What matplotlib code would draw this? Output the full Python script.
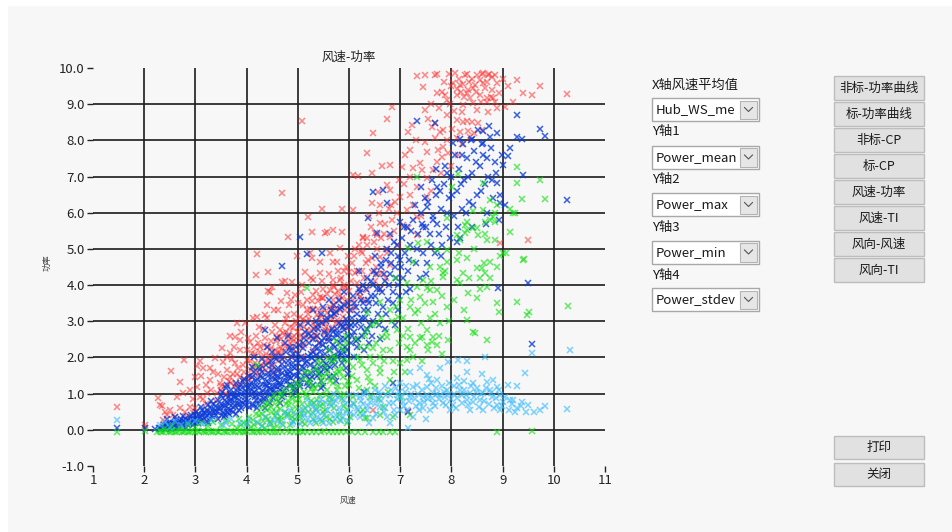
import matplotlib
matplotlib.use("Agg")
import matplotlib.pyplot as plt
from matplotlib.patches import Rectangle
from matplotlib.lines import Line2D
import numpy as np

plt.rcParams['font.family'] = ['Noto Sans CJK SC', 'DejaVu Sans']

# ---------------- data ----------------
title = "风速-功率"
x_label = "风速"
y_label = "功率"
x_ticks = [1, 2, 3, 4, 5, 6, 7, 8, 9, 10, 11]
y_ticks = [-1.0, 0.0, 1.0, 2.0, 3.0, 4.0, 5.0, 6.0, 7.0, 8.0, 9.0, 10.0]

power_max = [
    (1.47,0.62),(2.02,0.12),(2.02,0.06),(2.27,0.88),(2.31,0.69),(2.35,0.66),(2.37,0.28),(2.45,0.4),(2.5,0.55),(2.52,1.63),
    (2.56,0.41),(2.62,0.2),(2.7,0.61),(2.7,1.33),(2.76,1.02),(2.78,1.93),(2.84,0.36),(2.89,0.64),(2.89,1.1),(2.95,0.47),
    (2.99,1.46),(3.03,1.77),(3.03,1.19),(3.09,0.91),(3.09,1.9),(3.15,1.71),(3.23,1.02),(3.29,1.38),(3.29,1.71),(3.38,1.98),
    (3.42,1.02),(3.48,1.3),(3.52,2.26),(3.54,1.88),(3.62,1.66),(3.68,2.6),(3.68,2.13),(3.68,1.46),(3.77,2.57),(3.77,1.85),
    (3.81,2.96),(3.87,2.49),(3.87,2.21),(3.87,1.3),(3.97,2.96),(4.01,1.93),(4.07,2.43),(4.1,2.13),(4.13,3.09),(4.16,1.85),
    (4.18,4.28),(4.2,4.86),(4.2,3.12),(4.22,2.4),(4.26,2.15),(4.36,3.18),(4.36,2.54),(4.36,1.88),(4.4,3.45),(4.42,4.36),
    (4.42,3.84),(4.42,2.29),(4.46,3.81),(4.5,3.95),(4.5,1.74),(4.59,2.57),(4.59,1.66),(4.65,2.29),(4.69,4.09),(4.69,6.55),
    (4.71,2.68),(4.75,4.12),(4.79,3.78),(4.79,3.18),(4.81,5.33),(4.85,2.4),(4.89,4.09),(4.91,2.82),(4.95,3.73),(4.98,4.8),
    (5.04,3.12),(5.04,2.49),(5.08,8.53),(5.1,3.45),(5.1,2.02),(5.14,4.36),(5.18,3.31),(5.18,2.76),(5.2,5.88),(5.24,4.89),
    (5.24,3.35),(5.27,5.47),(5.27,4.75),(5.3,4.14),(5.3,3.73),(5.3,2.21),(5.34,2.62),(5.37,3.18),(5.37,2.82),(5.43,4.64),
    (5.43,4.34),(5.43,3.67),(5.43,2.4),(5.47,6.1),(5.47,3.65),(5.53,5.44),(5.53,2.96),(5.53,2.68),(5.57,5.47),(5.57,3.23),
    (5.59,2.54),(5.63,4.89),(5.63,3.87),(5.69,5.52),(5.69,4.64),(5.69,4.14),(5.69,3.59),(5.69,3.45),(5.69,2.82),(5.77,4.64),
    (5.77,3.04),(5.82,5.03),(5.82,3.31),(5.86,6.1),(5.86,5.47),(5.88,3.92),(5.88,3.12),(5.88,2.85),(5.96,3.59),(5.96,2.85),
    (6.08,7.04),(6.08,6.08),(6.12,4.34),(6.18,7.02),(6.21,3.67),(6.25,4.89),(6.27,5.33),(6.35,7.65),(6.35,5.3),(6.35,3.87),
    (6.45,7.1),(6.45,6.27),(6.45,4.36),(6.47,8.2),(6.47,0.55),(6.55,5.39),(6.57,6.57),(6.61,6.22),(6.61,5.72),(6.61,4.78),
    (6.64,7.29),(6.64,4.34),(6.74,8.59),(6.74,6.77),(6.8,7.32),(6.8,6.63),(6.8,5.33),(6.8,4.56),(6.84,8.92),(6.84,5.8),
    (6.94,5.99),(7.0,6.44),(7.04,7.27),(7.05,5.66),(7.13,6.08),(7.15,8.23),(7.15,5.58),(7.15,0.52),(7.19,7.73),(7.19,6.99),
    (7.19,6.49),(7.23,8.43),(7.25,7.24),(7.33,9.78),(7.33,6.71),(7.33,5.88),(7.33,5.39),(7.39,7.38),(7.43,7.18),(7.45,9.48),
    (7.48,9.8),(7.48,8.84),(7.48,7.96),(7.52,7.68),(7.52,6.96),(7.52,6.44),(7.62,8.37),(7.64,7.18),(7.68,9.8),(7.68,8.48),
    (7.68,8.07),(7.72,9.83),(7.72,9.3),(7.72,7.4),(7.74,7.73),(7.78,8.23),(7.82,9.34),(7.82,7.54),(7.84,8.29),(7.84,7.82),
    (7.88,9.25),(7.91,9.12),(7.91,8.7),(7.91,8.01),(7.93,7.65),(7.95,9.83),(8.01,8.31),(8.03,9.59),(8.11,9.42),(8.11,9.25),
    (8.11,8.56),(8.11,8.07),(8.13,7.6),(8.17,9.53),(8.17,8.23),(8.21,8.78),(8.23,9.56),(8.23,8.98),(8.27,9.8),(8.3,9.83),
    (8.3,9.3),(8.3,8.53),(8.32,9.39),(8.32,8.26),(8.36,9.17),(8.36,8.09),(8.42,9.45),(8.42,9.03),(8.46,9.53),(8.5,9.8),
    (8.5,8.84),(8.52,8.48),(8.56,9.25),(8.6,9.83),(8.62,9.86),(8.62,9.59),(8.69,9.17),(8.7,9.06),(8.71,9.8),(8.71,8.78),
    (8.73,9.83),(8.81,9.17),(8.85,9.06),(8.89,9.59),(8.89,8.9),(8.95,5.17),(9.05,8.92),(9.1,9.5),(9.2,9.06),(9.28,9.67),
    (9.4,9.3),(9.5,5.25),(9.57,9.25),(9.73,9.5),(10.26,9.28),
    (4.55,2.9),(4.62,3.3),(4.68,2.1),(4.75,2.95),(4.82,3.45),(4.88,2.25),(4.93,3.2),(5.0,2.7),(5.06,3.8),(5.12,2.35),
    (5.16,3.0),(5.22,2.55),(5.28,3.55),(5.33,2.85),(5.4,3.35),(5.46,2.95),(5.5,3.9),(5.55,3.1),(5.6,2.75),(5.65,3.3),
    (5.72,3.75),(5.75,2.95),(5.8,3.55),(5.85,4.2),(5.92,3.3),(5.95,4.5),(6.0,3.85),(6.05,4.6),(6.1,3.4),(6.15,4.05),
    (6.2,5.1),(6.25,4.4),(6.3,3.6),(6.38,4.7),(6.42,5.6),(6.5,4.1),(6.55,5.0),(6.6,3.9),(6.7,5.7),(6.75,4.9),
    (6.9,6.3),(6.95,5.1),(7.08,6.8),(7.25,6.2),(7.4,5.9),(7.6,6.6),(7.8,7.1),(8.0,7.3),(8.2,7.9),(8.4,8.5),
    (8.6,8.3),(8.8,9.4),(8.55,9.68),(8.4,9.7),(8.15,9.7),(8.0,9.5),(8.7,9.6),(8.8,9.75),(8.48,9.35),(8.25,9.2),
    (3.95,1.6),(4.0,2.2),(4.05,1.4),(4.12,1.75),(4.18,2.6),(4.25,1.55),(4.3,2.0),(4.33,2.8),(4.38,1.65),(4.45,2.05),
    (4.48,2.45),(4.52,1.55),(4.56,2.2),(4.62,1.9),(4.66,2.75),(4.72,1.95),(4.78,2.55),(4.86,2.0),(4.92,2.6),(4.97,2.15),
    (3.3,1.1),(3.45,1.55),(3.58,1.2),(3.72,1.95),(3.82,1.55),(3.6,1.0),(3.4,0.8),(3.2,0.7),(3.0,0.6),(2.8,0.5),(2.6,0.35),
    (3.55,1.45),(3.62,2.0),(3.7,1.3),(3.76,2.3),(3.84,1.7),(3.9,2.7),(3.94,1.4),(4.03,2.55),(4.08,1.65),(4.14,2.3),
    (4.19,1.55),(4.24,2.85),(4.28,1.8),(4.34,2.35),(4.39,3.1),(4.44,1.9),(4.49,2.7),(4.53,3.3),(4.58,2.1),(4.63,2.6),
    (4.67,3.55),(4.73,2.35),(4.77,3.05),(4.83,2.65),(4.87,3.6),(4.9,2.45),(4.96,3.0),(5.01,3.5),(5.05,2.6),(5.09,4.0),
    (5.13,2.85),(5.17,3.6),(5.21,3.05),(5.26,4.2),(5.29,2.95),(5.35,3.85),(5.38,2.6),(5.42,3.1),(5.48,4.1),(5.51,3.35),
    (5.56,2.85),(5.61,4.3),(5.66,3.05),(5.71,3.95),(5.74,3.35),(5.79,4.4),(5.83,3.7),(5.87,2.95),(5.91,4.0),(5.94,3.45),
    (5.98,4.8),(6.03,4.1),(6.07,3.6),(6.11,5.0),(6.16,4.4),(6.22,3.9),(6.28,5.3),(6.33,4.6),(6.4,5.9),(6.48,5.2),
    (6.52,4.5),(6.58,6.0),(6.68,5.4),(6.72,4.2),(6.78,6.1),(6.88,5.5),(6.98,6.9),(7.1,7.6),(7.3,8.0),(7.55,8.6),
    (7.75,8.9),(7.85,9.6),(7.98,9.0),(8.08,9.85),(8.18,9.35),(8.35,9.6),(8.45,8.2),(8.58,9.05),(8.65,9.45),(8.78,9.2),
    (8.86,9.8),(8.93,9.3),(9.0,9.7),(8.05,8.8),(8.22,8.5),(7.6,9.0),(3.1,1.5),(3.2,1.25),(3.35,1.6),(3.15,0.85),
    (2.95,0.85),(2.65,0.9),(2.4,0.5),(3.5,1.1),(3.75,1.2),
    (3.5,1.2),(3.58,0.95),(3.65,1.35),(3.73,1.55),(3.8,1.25),(3.88,1.45),(3.93,1.8),(4.02,1.5),(4.06,1.9),(4.11,1.45),
    (4.17,2.1),(4.21,1.7),(4.27,2.3),(4.31,1.75),(4.37,2.1),(4.41,1.85),(4.47,2.25),(4.51,2.0),(4.57,2.45),(4.61,2.15),
    (4.67,2.5),(4.7,2.2),(4.76,2.7),(4.8,2.3),(4.84,2.85),(4.88,2.55),(4.94,2.95),(4.99,2.4),(5.03,2.85),(5.07,2.3),
    (5.11,3.05),(5.15,2.6),(5.2,3.2),(5.25,2.75),(5.3,3.35),(5.35,2.5),(5.4,3.55),(5.45,3.15),(5.5,3.65),(5.54,2.75),
    (5.58,3.75),(5.63,3.4),(5.68,4.0),(5.73,3.2),(5.78,3.85),(5.82,4.15),(5.86,3.65),(5.9,4.4),(5.95,3.95),(6.0,4.35),
    (6.05,3.3),(6.1,4.8),(6.18,3.75),(6.24,4.95),(6.3,4.2),(6.36,5.1),(6.44,4.75),(6.5,5.45),(6.56,4.3),(6.62,5.3),
    (6.72,5.0),(6.82,6.2),
]

power_mean = [
    (1.47,0.05),(2.02,0.05),
    (2.22,0.02),(2.28,0.05),(2.32,0.01),(2.36,0.08),(2.4,0.03),(2.43,0.12),(2.47,0.06),(2.5,0.15),(2.53,0.09),(2.56,0.2),
    (2.6,0.12),(2.63,0.05),(2.66,0.18),(2.7,0.24),(2.73,0.1),(2.76,0.2),(2.8,0.3),(2.83,0.16),(2.86,0.26),(2.9,0.35),
    (2.93,0.22),(2.96,0.3),(3.0,0.4),(3.0,0.2),(2.45,0.3),(2.6,0.35),(2.75,0.38),
    (3.04,0.33),(3.07,0.45),(3.1,0.26),(3.13,0.4),(3.16,0.5),(3.2,0.35),(3.23,0.55),(3.26,0.44),(3.3,0.6),(3.33,0.38),
    (3.36,0.5),(3.4,0.65),(3.43,0.48),(3.46,0.58),(3.5,0.72),(3.53,0.5),(3.56,0.64),(3.6,0.78),(3.63,0.58),(3.66,0.7),
    (3.7,0.85),(3.73,0.62),(3.76,0.76),(3.8,0.92),(3.83,0.7),(3.86,0.82),(3.9,1.0),(3.93,0.74),(3.96,0.9),(4.0,1.05),
    (3.1,0.62),(3.3,0.8),(3.5,0.95),(3.7,1.1),(3.9,1.25),(3.45,0.3),(3.65,0.45),(3.85,0.55),
    (4.03,0.8),(4.06,0.95),(4.1,1.1),(4.13,0.72),(4.16,0.9),(4.2,1.2),(4.23,1.0),(4.26,0.82),(4.3,1.28),(4.33,1.08),
    (4.36,0.9),(4.4,1.35),(4.43,1.15),(4.46,0.95),(4.5,1.42),(4.53,1.22),(4.56,1.02),(4.6,1.5),(4.63,1.3),(4.66,1.1),
    (4.7,1.58),(4.73,1.38),(4.76,1.16),(4.8,1.66),(4.83,1.45),(4.86,1.24),(4.9,1.75),(4.93,1.52),(4.96,1.3),(5.0,1.85),
    (4.1,1.45),(4.3,1.6),(4.5,1.8),(4.7,1.95),(4.9,2.1),(4.2,0.6),(4.45,0.75),(4.7,0.9),(4.95,1.05),(4.15,2.0),
    (4.4,2.3),(4.6,2.55),(4.35,2.75),(4.8,2.6),
    (5.03,1.6),(5.06,1.4),(5.1,1.95),(5.13,1.7),(5.16,1.48),(5.2,2.05),(5.23,1.8),(5.26,1.56),(5.3,2.15),(5.33,1.9),
    (5.36,1.65),(5.4,2.25),(5.43,2.0),(5.46,1.74),(5.5,2.35),(5.53,2.1),(5.56,1.82),(5.6,2.45),(5.63,2.2),(5.66,1.9),
    (5.7,2.55),(5.73,2.3),(5.76,2.0),(5.8,2.65),(5.83,2.4),(5.86,2.1),(5.9,2.75),(5.93,2.5),(5.96,2.2),(6.0,2.85),
    (5.1,2.4),(5.25,2.6),(5.4,2.8),(5.55,3.0),(5.7,3.2),(5.85,3.4),(5.2,1.2),(5.45,1.35),(5.7,1.5),(5.95,1.7),
    (5.3,3.3),(5.6,3.6),(5.9,3.8),(5.05,2.9),(5.5,1.2),
    (6.03,2.4),(6.06,3.1),(6.1,2.7),(6.13,3.4),(6.16,2.3),(6.2,3.0),(6.23,3.6),(6.26,2.6),(6.3,3.3),(6.33,3.9),
    (6.36,2.8),(6.4,3.5),(6.43,4.1),(6.46,3.0),(6.5,3.7),(6.53,4.3),(6.56,3.2),(6.6,3.9),(6.63,4.5),(6.66,3.4),
    (6.7,4.1),(6.73,4.7),(6.76,3.6),(6.8,4.3),(6.83,4.9),(6.86,3.8),(6.9,4.5),(6.93,5.1),(6.96,4.0),(7.0,4.7),
    (6.1,2.0),(6.4,2.4),(6.7,2.8),(6.2,4.4),(6.5,4.8),(6.8,5.4),(6.95,3.3),
    (7.03,5.3),(7.06,4.2),(7.1,4.9),(7.13,5.6),(7.16,4.4),(7.2,5.1),(7.25,5.8),(7.3,4.6),(7.35,5.4),(7.4,6.0),
    (7.45,4.9),(7.5,5.6),(7.55,6.3),(7.6,5.1),(7.65,5.9),(7.7,6.5),(7.75,5.4),(7.8,6.1),(7.85,6.8),(7.9,5.6),
    (7.95,6.4),(8.0,7.0),(7.2,3.9),(7.5,4.3),(7.8,4.8),(7.4,6.7),(7.7,7.2),
    (8.05,5.9),(8.1,6.6),(8.15,7.2),(8.2,6.1),(8.25,6.9),(8.3,7.5),(8.35,6.3),(8.4,7.1),(8.45,7.7),(8.5,6.5),
    (8.55,7.3),(8.6,7.9),(8.65,6.8),(8.7,7.5),(8.75,8.1),(8.8,6.9),(8.85,7.4),(8.9,8.2),(8.1,5.2),(8.4,5.6),
    (8.7,6.0),(8.95,6.5),
    (7.33,8.53),(7.68,8.48),(8.62,8.26),(8.73,8.4),(9.28,8.7),(9.73,8.31),(9.83,8.12),(9.28,8.09),(9.38,8.04),(8.03,7.93),
    (8.17,8.04),(8.4,8.04),(8.62,7.93),(9.14,7.79),(9.1,7.57),(9.0,7.32),(8.21,7.6),(9.4,7.04),(8.89,6.82),(7.91,7.1),
    (7.72,6.71),(7.52,6.16),(6.66,6.63),(6.74,6.27),(6.37,5.86),(7.0,5.75),(8.95,6.27),(9.05,6.22),(10.26,6.35),(7.64,5.8),
    (7.45,5.61),(8.17,5.3),(6.55,5.44),(6.47,6.57),
    (5.04,5.33),(4.69,4.53),(5.18,4.86),(5.47,4.89),(8.91,3.92),(9.5,4.06),(9.57,2.37),(6.86,1.3),(7.15,0.5),(6.3,1.05),
    (2.31,0.06),(2.38,0.14),(2.44,0.05),(2.49,0.2),(2.52,0.02),(2.58,0.16),(2.62,0.27),(2.68,0.08),(2.71,0.31),(2.74,0.15),
    (2.79,0.22),(2.82,0.06),(2.88,0.18),(2.91,0.42),(2.95,0.12),(2.98,0.27),
    (3.02,0.5),(3.05,0.18),(3.09,0.36),(3.12,0.55),(3.15,0.28),(3.18,0.44),(3.22,0.25),(3.24,0.68),(3.28,0.5),(3.31,0.3),
    (3.35,0.72),(3.38,0.56),(3.41,0.4),(3.44,0.82),(3.48,0.62),(3.51,0.42),(3.54,0.88),(3.58,0.68),(3.61,0.5),(3.64,0.92),
    (3.67,0.8),(3.69,0.55),(3.72,1.0),(3.75,0.9),(3.78,0.66),(3.81,1.08),(3.84,0.95),(3.88,0.72),(3.91,1.15),(3.94,1.02),
    (3.97,0.8),(3.99,1.2),(3.25,0.2),(3.55,0.35),(3.8,0.45),(3.6,1.15),(3.95,1.4),
    (4.02,1.15),(4.05,0.62),(4.08,1.3),(4.11,0.98),(4.14,1.22),(4.18,0.82),(4.21,1.4),(4.24,1.15),(4.27,0.98),(4.29,1.5),
    (4.32,0.78),(4.35,1.25),(4.38,1.05),(4.41,1.58),(4.44,1.3),(4.47,1.12),(4.49,1.65),(4.52,0.88),(4.55,1.4),(4.58,1.2),
    (4.61,1.72),(4.64,1.45),(4.67,1.28),(4.69,1.82),(4.72,1.05),(4.75,1.52),(4.78,1.35),(4.81,1.9),(4.84,1.6),(4.87,1.42),
    (4.89,2.0),(4.92,1.18),(4.95,1.7),(4.98,1.5),(4.25,1.75),(4.55,2.0),(4.85,2.3),(4.65,0.75),(4.35,0.6),(4.9,0.95),
    (5.01,2.1),(5.04,1.3),(5.08,1.75),(5.11,2.25),(5.14,1.58),(5.18,1.9),(5.21,2.4),(5.24,1.4),(5.27,1.98),(5.29,2.5),
    (5.32,1.75),(5.35,2.08),(5.38,2.6),(5.41,1.55),(5.44,2.15),(5.47,2.45),(5.49,1.9),(5.52,2.7),(5.55,2.25),(5.58,1.65),
    (5.61,2.55),(5.64,2.0),(5.67,2.8),(5.69,2.35),(5.72,1.8),(5.75,2.65),(5.78,2.15),(5.81,2.95),(5.84,2.5),(5.87,1.85),
    (5.89,2.85),(5.92,2.3),(5.95,3.05),(5.98,2.6),(5.15,2.7),(5.35,3.0),(5.65,3.3),(5.8,3.6),(5.45,1.15),(5.75,1.35),
    (5.98,1.55),(5.5,3.4),
    (6.02,3.3),(6.05,2.6),(6.08,3.7),(6.12,2.9),(6.15,3.2),(6.18,2.5),(6.22,3.8),(6.25,3.1),(6.28,3.5),(6.32,2.7),
    (6.35,4.2),(6.38,3.3),(6.42,3.7),(6.45,2.6),(6.48,4.4),(6.52,3.5),(6.55,3.9),(6.58,2.9),(6.62,4.6),(6.65,3.8),
    (6.68,4.3),(6.72,3.2),(6.75,5.0),(6.78,4.0),(6.82,4.6),(6.85,3.5),(6.88,5.2),(6.92,4.2),(6.95,4.8),(6.98,3.7),
    (6.3,2.2),(6.6,2.5),(6.9,2.9),
    (7.02,4.5),(7.08,5.6),(7.12,3.8),(7.18,4.7),(7.22,5.5),(7.28,6.2),(7.32,5.0),(7.38,4.2),(7.42,5.7),(7.48,6.4),
    (7.52,4.6),(7.58,5.4),(7.62,6.9),(7.68,4.9),(7.72,5.7),(7.78,6.6),(7.82,5.1),(7.88,7.3),(7.92,6.0),(7.98,5.3),
    (8.02,6.5),(8.08,7.6),(8.12,5.6),(8.18,6.8),(8.22,7.9),(8.28,6.0),(8.32,7.0),(8.38,8.0),(8.42,6.2),(8.48,7.4),
    (8.52,8.3),(8.58,6.6),(8.62,7.6),(8.68,5.7),(8.72,7.0),(8.78,7.8),(8.82,6.4),(8.88,7.1),(8.92,5.8),(8.98,7.6),
    (3.52,1.05),(3.57,0.42),(3.62,1.25),(3.68,0.98),(3.74,0.48),(3.79,1.3),(3.83,1.15),(3.89,0.6),(3.92,1.35),(3.98,0.65),
    (4.04,1.5),(4.07,1.25),(4.12,0.65),(4.15,1.6),(4.19,1.35),(4.22,0.7),(4.26,1.68),(4.31,1.42),(4.34,0.85),(4.37,1.8),
    (4.42,1.5),(4.45,1.02),(4.48,1.9),(4.51,1.58),(4.54,1.1),(4.57,1.95),(4.62,1.62),(4.65,1.2),(4.68,2.05),(4.71,1.7),
    (4.74,0.98),(4.77,2.15),(4.8,1.78),(4.83,1.25),(4.87,2.2),(4.9,1.85),(4.93,1.1),(4.96,2.28),(4.99,1.95),(4.15,1.05),
    (4.4,1.2),(4.6,1.35),(4.8,1.55),(4.3,1.95),(4.5,2.15),(4.75,2.4),(4.1,1.75),
    (5.02,2.35),(5.05,1.2),(5.07,2.0),(5.12,2.55),(5.15,1.85),(5.17,1.3),(5.22,2.65),(5.25,2.1),(5.28,1.45),(5.31,2.78),
    (5.34,2.3),(5.37,1.5),(5.39,2.9),(5.42,2.4),(5.45,1.6),(5.48,2.95),(5.51,2.55),(5.54,1.7),(5.57,3.1),(5.59,2.65),
    (5.62,1.75),(5.65,3.15),(5.68,2.7),(5.71,1.95),(5.74,3.25),(5.77,2.8),(5.79,2.05),(5.82,3.35),(5.85,2.9),(5.88,2.2),
    (5.91,3.45),(5.94,2.95),(5.97,2.05),(5.99,3.5),(5.2,2.95),(5.45,3.2),(5.7,3.45),(5.3,1.25),(5.6,1.45),(5.9,1.95),
    (6.04,2.9),(6.09,3.5),(6.14,2.45),(6.19,3.9),(6.24,2.85),(6.27,4.0),(6.31,3.1),(6.37,3.6),(6.41,2.9),(6.47,4.0),
]

power_min = [
    (1.47,-0.05),(2.02,-0.02),(2.25,-0.05),(2.3,-0.02),(2.36,-0.05),(2.42,-0.03),(2.48,-0.06),(2.55,-0.04),(2.6,-0.06),
    (2.67,-0.03),(2.73,-0.06),(2.8,-0.04),(2.86,-0.06),(2.93,-0.03),(3.0,-0.05),(3.07,-0.06),(3.14,-0.03),(3.2,-0.06),
    (3.27,-0.04),(3.34,-0.06),(3.4,-0.03),(3.47,-0.06),(3.55,-0.04),(3.62,-0.06),(3.7,-0.04),(3.78,-0.06),(3.85,-0.03),
    (3.93,-0.06),(4.0,-0.04),(4.1,-0.06),(4.2,-0.04),(4.3,-0.06),(4.42,-0.05),(4.55,-0.06),(4.7,-0.05),(4.85,-0.06),
    (5.0,-0.05),(5.1,-0.06),(5.27,-0.06),(5.45,-0.05),(5.6,-0.06),(5.77,-0.05),(6.06,-0.06),(6.31,-0.06),(6.47,-0.06),
    (6.66,-0.06),(6.9,-0.06),(8.89,-0.05),(9.57,-0.03),
    (2.4,0.05),(2.55,0.1),(2.7,0.04),(2.85,0.12),(3.0,0.08),(3.1,0.18),(3.25,0.1),(3.35,0.22),(3.5,0.12),(3.6,0.25),
    (3.72,0.15),(3.85,0.3),(3.95,0.18),(4.05,0.35),(4.15,0.12),(4.25,0.42),(4.32,0.25),(4.4,0.55),(4.48,0.15),(4.55,0.38),
    (4.6,0.65),(4.68,0.28),(4.75,0.5),(4.8,0.8),(4.88,0.35),(4.95,0.62),(5.0,0.95),(4.2,1.8),(4.65,1.0),(4.9,1.15),
    (4.45,0.85),(4.35,0.05),(4.6,0.1),(4.85,0.12),
    (5.1,0.55),(5.3,0.47),(5.49,0.5),(5.82,0.28),(6.02,0.36),(6.35,0.33),(6.61,0.41),(6.86,0.36),(5.69,0.22),(5.08,0.22),
    (5.18,0.91),(5.37,0.83),(5.63,0.75),(5.57,1.1),(5.82,0.97),(6.08,0.91),(6.35,1.1),(5.24,1.3),(5.43,1.46),(5.69,1.3),
    (5.88,1.46),(6.16,1.38),(6.41,1.33),(5.77,1.66),(6.08,1.74),(6.35,1.66),(6.61,1.71),(5.88,1.93),(6.16,2.02),(6.41,2.02),
    (6.61,2.02),(6.21,2.29),(6.47,2.27),(6.35,2.76),(6.55,2.96),(6.64,2.57),(6.35,3.23),(6.61,3.54),(6.8,3.31),(6.96,3.12),
    (6.74,2.57),(6.94,2.76),(5.69,1.88),(5.57,1.57),(5.18,3.92),(6.61,1.57),(6.8,1.38),(6.47,1.85),(6.21,1.93),(6.66,2.21),
    (6.35,2.29),(6.41,0.91),(6.21,0.47),(6.66,0.64),(7.0,0.91),(7.19,0.41),(6.31,0.33),(5.96,0.19),(5.3,1.05),(5.5,0.7),
    (5.15,1.6),(5.4,1.9),(5.6,2.2),(5.75,2.45),(5.95,2.6),(6.0,1.25),(5.9,0.65),(5.55,0.35),(5.35,0.2),
    (7.13,2.29),(7.25,2.02),(7.19,2.57),(7.39,2.54),(7.64,2.57),(7.72,2.35),(7.52,2.76),(7.78,2.96),(7.58,3.09),(7.29,3.23),
    (7.19,3.4),(7.64,3.54),(7.91,3.4),(7.39,3.67),(7.52,3.92),(7.72,3.87),(7.84,4.23),(8.11,4.14),(7.91,4.64),(8.17,4.06),
    (8.3,3.04),(8.42,2.71),(8.7,2.49),(8.32,3.78),(8.5,3.65),(8.89,3.51),(9.28,3.54),(8.93,3.26),(9.52,3.26),(9.48,3.18),
    (8.7,3.95),(8.56,4.2),(8.23,4.34),(8.6,4.48),(8.64,4.61),(8.75,4.64),(9.42,4.72),(9.07,4.89),(9.14,5.47),(10.27,3.42),
    (8.46,2.68),(7.93,2.49),(7.82,2.1),(7.43,2.57),(7.52,2.35),(7.62,2.43),(7.19,2.21),(7.0,1.85),(7.13,1.93),(9.28,7.27),
    (9.38,6.38),(9.24,5.99),(8.13,7.07),(8.62,6.82),(8.42,6.05),(8.81,5.88),(8.66,5.75),(8.27,5.66),(8.3,5.52),(8.5,5.58),
    (8.52,5.39),(8.7,5.25),(8.85,5.25),(8.11,5.39),(8.17,5.25),(7.91,5.86),(8.11,4.7),(8.3,4.75),(8.5,4.48),(8.66,4.34),
    (8.89,4.5),(9.0,4.89),(9.4,4.7),(7.78,4.5),(7.58,4.5),(7.84,4.34),(7.72,4.97),(7.52,5.19),(7.58,3.87),(7.25,4.64),
    (7.45,4.14),(7.33,3.95),(7.13,4.06),(7.91,4.97),(7.35,5.17),(7.15,5.03),(9.28,6.82),(9.73,6.91),(9.83,6.38),(8.75,6.35),
    (8.89,6.22),(9.14,6.1),(9.2,5.99),(8.62,6.08),(8.85,5.75),(8.75,5.8),(8.3,5.75),(8.42,5.58),(8.27,5.44),(7.33,6.99),
    (8.01,6.71),(7.05,2.6),(6.85,1.9),(7.0,3.6),(7.4,2.95),(6.9,4.2),
    (3.82,0.05),(3.9,0.12),(4.0,0.2),(4.08,0.08),(4.12,0.28),(4.18,0.45),(4.22,0.18),(4.28,0.6),(4.3,0.1),(4.38,0.35),
    (4.42,0.7),(4.45,0.22),(4.5,0.5),(4.52,0.05),(4.58,0.82),(4.62,0.3),(4.65,0.58),(4.7,0.95),(4.72,0.12),(4.78,0.42),
    (4.82,0.68),(4.86,1.0),(4.9,0.25),(4.93,0.5),(4.97,0.8),(5.02,1.2),(5.05,0.35),(5.08,0.7),(5.12,1.05),(5.15,0.15),
    (5.2,0.5),(5.22,1.35),(5.26,0.8),(5.3,0.3),(5.33,1.15),(5.36,0.6),(5.4,1.6),(5.44,0.95),(5.47,0.25),(5.5,1.3),
    (5.53,0.55),(5.56,1.75),(5.6,0.9),(5.62,0.3),(5.66,1.45),(5.7,0.6),(5.72,1.95),(5.76,1.1),(5.8,0.4),(5.83,1.6),
    (5.86,0.85),(5.9,2.2),(5.93,1.2),(5.97,0.55),(5.99,1.9),
    (4.15,-0.05),(4.25,-0.06),(4.38,-0.04),(4.5,-0.05),(4.62,-0.06),(4.78,-0.04),(4.92,-0.06),(5.05,-0.04),(5.18,-0.05),
    (5.36,-0.06),(5.52,-0.04),(5.68,-0.05),(5.85,-0.06),(5.95,-0.05),(6.18,-0.06),(6.58,-0.05),(6.8,-0.06),(2.33,-0.06),
    (2.52,-0.05),(2.64,-0.06),(2.77,-0.05),(2.9,-0.06),(3.04,-0.04),(3.17,-0.05),(3.3,-0.05),(3.44,-0.05),(3.58,-0.05),
    (3.74,-0.05),(3.88,-0.05),(3.97,-0.05),
    (6.05,1.5),(6.1,0.7),(6.14,2.5),(6.2,1.15),(6.25,1.8),(6.28,0.55),(6.32,2.6),(6.38,1.45),(6.44,2.9),(6.5,1.2),
    (6.53,2.4),(6.58,0.85),(6.63,3.1),(6.68,1.9),(6.72,2.7),(6.76,1.05),(6.8,2.2),(6.84,3.0),(6.88,1.6),(6.92,3.4),
    (6.97,2.4),
    (7.05,3.1),(7.1,1.6),(7.15,2.8),(7.22,3.6),(7.28,2.4),(7.35,3.3),(7.42,1.9),(7.48,3.5),(7.55,2.2),(7.6,4.1),
    (7.68,3.2),(7.75,2.6),(7.82,3.7),(7.88,4.4),(7.95,3.0),(8.05,3.6),(8.15,4.9),(8.25,3.3),(8.35,4.2),(8.45,5.0),
    (8.55,3.9),(8.65,5.4),(8.75,4.2),(8.85,6.0),(8.95,4.8),
    (4.3,0.45),(4.36,0.72),(4.41,0.3),(4.47,0.62),(4.53,0.95),(4.57,0.48),(4.63,0.8),(4.67,0.35),(4.73,1.1),(4.76,0.72),
    (4.81,0.45),(4.84,1.2),(4.89,0.85),(4.94,0.3),(4.98,1.3),(5.03,0.85),(5.07,0.45),(5.11,1.4),(5.16,1.0),(5.19,0.65),
    (5.23,1.6),(5.28,1.15),(5.32,0.75),(5.35,1.7),(5.39,1.25),(5.43,0.65),(5.46,1.85),(5.51,1.45),(5.55,0.95),(5.59,1.95),
    (5.63,1.35),(5.67,0.85),(5.7,2.05),(5.74,1.55),(5.78,1.2),(5.82,2.3),(5.87,1.7),(5.91,1.0),(5.94,2.4),(5.98,1.35),
]

power_stdev = [
    (1.47,0.28),(2.3,0.12),(2.4,0.22),(2.5,0.08),(2.6,0.25),(2.72,0.14),(2.85,0.2),(3.0,0.25),(3.15,0.15),(3.3,0.28),
    (3.54,0.14),(3.7,0.3),(3.87,0.19),(4.05,0.28),(4.2,0.22),(4.35,0.35),(4.52,0.28),(4.6,0.45),(4.7,0.15),(4.79,0.36),
    (4.85,0.55),(4.91,0.22),(5.04,0.55),(5.1,0.35),(5.18,0.83),(5.24,0.19),(5.3,0.62),(5.37,0.36),(5.42,0.75),(5.49,0.19),
    (5.57,0.55),(5.62,0.88),(5.69,0.75),(5.75,0.4),(5.8,0.6),(5.85,0.25),(5.9,0.82),(5.95,0.5),(6.02,0.47),(6.08,0.75),
    (6.15,0.6),(6.21,0.91),(6.21,0.36),(6.28,0.7),(6.35,0.55),(6.41,0.77),(6.47,0.33),(6.55,0.85),(6.61,0.97),(6.61,0.64),
    (6.68,0.5),(6.74,0.36),(6.8,0.97),(6.8,0.19),(6.86,0.75),(6.92,1.15),(7.0,1.3),(7.0,0.55),(7.05,0.77),(7.13,0.55),
    (7.15,0.06),(7.19,0.91),(7.19,1.6),(7.25,1.19),(7.3,0.65),(7.39,0.75),(7.39,1.71),(7.45,0.91),(7.45,0.61),(7.52,1.19),
    (7.52,1.52),(7.58,0.55),(7.64,1.02),(7.64,0.75),(7.72,1.38),(7.78,0.97),(7.78,1.71),(7.84,0.75),(7.91,1.1),(7.93,1.88),
    (7.97,0.55),(8.03,0.69),(8.11,0.88),(8.11,1.44),(8.13,1.93),(8.17,1.1),(8.3,0.83),(8.3,1.6),(8.3,1.91),(8.36,1.02),
    (8.36,0.55),(8.42,1.3),(8.56,0.83),(8.6,1.55),(8.62,1.02),(8.62,0.55),(8.66,2.02),(8.7,1.33),(8.79,0.91),(8.81,1.38),
    (8.89,1.19),(8.89,0.69),(8.95,0.97),(8.95,0.55),(9.0,0.77),(9.1,1.24),(9.14,0.83),(9.2,0.83),(9.28,1.22),(9.28,0.61),
    (9.38,0.77),(9.44,1.57),(9.5,0.69),(9.57,2.13),(9.73,0.55),(9.83,0.66),(10.31,2.21),(10.25,0.58),
    (6.5,1.1),(6.7,1.2),(6.95,0.95),(7.1,1.05),(7.35,1.0),(7.55,0.85),(7.7,1.15),(7.88,0.9),(8.05,1.2),(8.2,0.95),
    (8.45,0.9),(8.5,1.15),(8.75,1.1),(7.6,1.3),(7.95,1.3),(8.25,1.35),(6.3,0.95),(6.0,0.95),(5.7,1.0),(6.4,0.2),
    (6.9,0.4),(7.25,0.35),(7.5,0.3),
    (5.05,0.15),(5.12,0.45),(5.2,0.3),(5.27,0.7),(5.33,0.25),(5.4,0.5),(5.46,0.85),(5.52,0.4),(5.6,0.2),(5.65,0.65),
    (5.72,0.3),(5.78,0.9),(5.83,0.5),(5.88,0.35),(5.93,0.7),(5.98,0.25),(6.04,0.65),(6.1,0.4),(6.13,0.95),(6.18,0.55),
    (6.24,0.8),(6.3,0.45),(6.33,1.05),(6.38,0.65),(6.44,0.9),(6.5,0.7),(6.53,0.45),(6.58,1.05),(6.63,0.8),(6.7,0.6),
    (6.73,0.95),(6.78,0.75),(6.83,1.1),(6.88,0.55),(6.93,0.85),(6.98,1.05),(7.03,0.9),(7.08,0.65),(7.12,1.2),(7.17,0.8),
    (7.22,1.0),(7.28,0.85),(7.32,1.25),(7.37,0.55),(7.42,1.1),(7.47,0.78),(7.52,0.95),(7.57,1.4),(7.62,0.88),(7.67,0.65),
    (7.72,1.0),(7.76,0.85),(7.81,1.2),(7.86,1.05),(7.9,0.68),(7.95,0.98),(8.0,0.85),(8.06,1.0),(8.09,0.6),(8.14,1.25),
    (8.2,0.75),(8.24,1.1),(8.28,0.95),(8.33,0.68),(8.38,1.2),(8.43,0.78),(8.48,1.05),(8.53,0.62),(8.58,1.0),(8.64,0.8),
    (8.68,1.15),(8.73,0.7),(8.78,1.02),(8.84,0.6),(8.87,0.88),(8.92,1.1),(8.98,0.66),(9.05,0.9),(9.12,0.55),(9.18,0.7),
    (9.25,0.5),(9.35,0.65),(9.45,0.48),(9.62,0.5),(4.45,0.15),(4.62,0.25),(4.75,0.5),(4.88,0.15),(4.95,0.4),(4.3,0.1),
    (4.0,0.12),(3.6,0.2),
    (5.15,0.6),(5.35,0.55),(5.55,0.75),(5.75,0.8),(5.45,0.3),(5.65,0.45),(5.25,0.45),
]

series = [
    ("Power_max", power_max, "#ff2a2a", 0.55),
    ("Power_mean", power_mean, "#0a3ad6", 0.8),
    ("Power_min", power_min, "#10e010", 0.65),
    ("Power_stdev", power_stdev, "#38bcff", 0.65),
]

x_selector_label = "X轴风速平均值"
x_selector_value = "Hub_WS_me"
y_selector_labels = ["Y轴1", "Y轴2", "Y轴3", "Y轴4"]
y_selector_values = ["Power_mean", "Power_max", "Power_min", "Power_stdev"]
buttons = ["非标-功率曲线", "标-功率曲线", "非标-CP", "标-CP", "风速-功率", "风速-TI", "风向-风速", "风向-TI"]
bottom_buttons = ["打印", "关闭"]

# ---------------- figure ----------------
W, H = 952, 532
fig = plt.figure(figsize=(W / 100, H / 100), dpi=100)
fig.patch.set_facecolor("white")


def fx(x):
    return x / W


def fy(y):
    return 1 - y / H


def rect_px(x0, y0, x1, y1, **kw):
    fig.add_artist(Rectangle((fx(x0), fy(y1)), fx(x1) - fx(x0), fy(y0) - fy(y1),
                             transform=fig.transFigure, **kw))


# panel background
rect_px(8, 6, W, H, facecolor="#f7f7f7", edgecolor="none", zorder=-10)

ax = fig.add_axes([fx(93), fy(466), fx(605) - fx(93), fy(68) - fy(466)])
ax.set_facecolor("none")
ax.set_xlim(x_ticks[0], x_ticks[-1])
ax.set_ylim(y_ticks[0], y_ticks[-1])
for s in ax.spines.values():
    s.set_visible(False)
ax.set_xticks(x_ticks)
ax.set_xticklabels([str(t) for t in x_ticks])
ax.set_yticks(y_ticks)
ax.set_yticklabels([f"{t:.1f}" for t in y_ticks])
ax.tick_params(direction="out", length=4, width=1, colors="#222222", labelsize=9.5, pad=2)

for t in x_ticks[1:-1]:
    ax.axvline(t, color="#1c1c1c", lw=1.2, zorder=0.5)
for t in y_ticks[1:-1]:
    ax.axhline(t, color="#1c1c1c", lw=1.2, zorder=0.5)

for name, pts, col, al in series:
    arr = np.array(pts)
    ax.plot(arr[:, 0], arr[:, 1], linestyle="none", marker="x", ms=3.8, mew=1.1,
            color=col, alpha=al, zorder=2, label=name)

ax.set_title(title, fontsize=9, pad=5, color="#222222")
fig.text(fx(348), fy(500), x_label, fontsize=6, ha="center", va="center", color="#444444")
fig.text(fx(47), fy(263), y_label, fontsize=6, ha="center", va="center", rotation=90, color="#444444")


# ---------------- right-hand controls ----------------
def dropdown(y0, text):
    rect_px(652, y0, 759, y0 + 23, facecolor="white", edgecolor="#a8a8a8", lw=1.0, zorder=1)
    rect_px(740, y0 + 2.5, 757, y0 + 21, facecolor="#e6e6e6", edgecolor="#b4b4b4", lw=0.8, zorder=2)
    cx, cy = 748.5, y0 + 11.5
    fig.add_artist(Line2D([fx(cx - 4), fx(cx), fx(cx + 4)], [fy(cy - 2), fy(cy + 2), fy(cy - 2)],
                          transform=fig.transFigure, color="#555555", lw=0.8, zorder=3))
    fig.text(fx(656), fy(y0 + 12), text, fontsize=9.5, ha="left", va="center", color="#1a1a1a")


fig.text(fx(652), fy(85), x_selector_label, fontsize=9.5, ha="left", va="center", color="#1a1a1a")
dropdown(98, x_selector_value)
label_y = [132, 180, 228, 275]
box_y = [145.5, 193, 240.5, 288]
for lab, val, ly, by in zip(y_selector_labels, y_selector_values, label_y, box_y):
    fig.text(fx(652), fy(ly), lab, fontsize=9.5, ha="left", va="center", color="#1a1a1a")
    dropdown(by, val)


def button(y0, text):
    rect_px(834, y0, 924, y0 + 23.5, facecolor="#e1e1e1", edgecolor="#bdbdbd", lw=1.0, zorder=1)
    fig.text(fx(879), fy(y0 + 12), text, fontsize=9, ha="center", va="center", color="#1a1a1a")


for i, b in enumerate(buttons):
    button(76 + 26 * i, b)
for i, b in enumerate(bottom_buttons):
    button(435.5 + 27 * i, b)

fig.savefig("out.png", dpi=100, facecolor=fig.get_facecolor())
